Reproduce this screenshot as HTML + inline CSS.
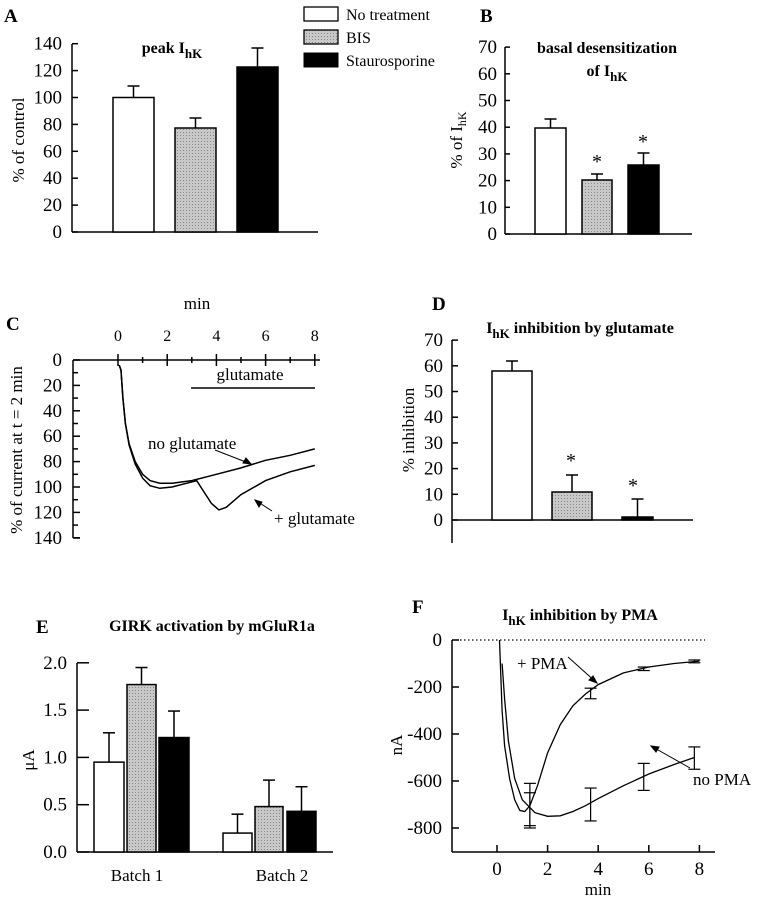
<!DOCTYPE html>
<html><head><meta charset="utf-8"><style>
body{margin:0;background:#fff}
svg{display:block;font-family:"Liberation Serif",serif}
</style></head><body>
<svg id="s" width="760" height="899" viewBox="0 0 760 899" xmlns="http://www.w3.org/2000/svg">
<defs><pattern id="dot" width="3" height="3" patternUnits="userSpaceOnUse"><rect width="3" height="3" fill="#c8c8c8"/><rect width="1" height="1" fill="#888"/></pattern></defs>
<g stroke="#000" stroke-width="1.5" fill="none" id="axes"></g>
<g font-size="19" font-weight="bold">
<text x="4" y="22">A</text><text x="480" y="22">B</text><text x="6" y="330">C</text><text x="432" y="310">D</text><text x="36" y="633">E</text><text x="412" y="613">F</text>
</g>
<g font-size="16" font-weight="bold" text-anchor="middle">
<text x="172" y="53">peak I<tspan font-size="13" dy="5">hK</tspan></text>
<text x="607" y="53">basal desensitization</text>
<text x="607" y="76">of I<tspan font-size="13" dy="5">hK</tspan></text>
<text x="580" y="333">I<tspan font-size="13" dy="5">hK</tspan><tspan dy="-5"> inhibition by glutamate</tspan></text>
<text x="212" y="631">GIRK activation by mGluR1a</text>
<text x="580" y="620">I<tspan font-size="13" dy="5">hK</tspan><tspan dy="-5"> inhibition by PMA</tspan></text>
</g>
<g font-size="17">
<rect x="304" y="7" width="34" height="14" fill="#fff" stroke="#000" stroke-width="1.3"/>
<rect x="304" y="30" width="34" height="14" fill="url(#dot)" stroke="#000" stroke-width="1.3"/>
<rect x="304" y="53" width="34" height="14" fill="#000" stroke="#000"/>
<text x="346" y="20" font-size="16">No treatment</text><text x="346" y="43" font-size="16">BIS</text><text x="346" y="66" font-size="16">Staurosporine</text>
<text transform="translate(24,140) rotate(-90)" text-anchor="middle">% of control</text>
<text transform="translate(462,140) rotate(-90)" text-anchor="middle">% of I<tspan font-size="12" dy="4">hK</tspan></text>
<text transform="translate(22,450) rotate(-90)" text-anchor="middle">% of current at t = 2 min</text>
<text transform="translate(414,430) rotate(-90)" text-anchor="middle">% inhibition</text>
<text transform="translate(34,760) rotate(-90)" text-anchor="middle">μA</text>
<text transform="translate(402,745) rotate(-90)" text-anchor="middle">nA</text>
<text x="197" y="309" text-anchor="middle">min</text>
<text x="250" y="380" text-anchor="middle">glutamate</text>
<text x="148" y="449">no glutamate</text>
<text x="274" y="524">+ glutamate</text>
<text x="137" y="881" text-anchor="middle">Batch 1</text>
<text x="282" y="881" text-anchor="middle">Batch 2</text>
<text x="517" y="669">+ PMA</text>
<text x="693" y="785">no PMA</text>
<text x="598" y="895" text-anchor="middle">min</text>
<text x="597" y="168" font-size="20" text-anchor="middle">*</text>
<text x="643" y="148" font-size="20" text-anchor="middle">*</text>
<text x="571" y="467" font-size="20" text-anchor="middle">*</text>
<text x="633" y="492" font-size="20" text-anchor="middle">*</text>
</g>
<g id="dyn"></g>
</svg>
<script>
var NS="http://www.w3.org/2000/svg",ax=document.getElementById('axes'),dy=document.getElementById('dyn');
function el(p,t,a,txt){var e=document.createElementNS(NS,t);for(var k in a)e.setAttribute(k,a[k]);if(txt!=null)e.textContent=txt;p.appendChild(e);return e}
function L(x1,y1,x2,y2,w){el(ax,'line',{x1:x1,y1:y1,x2:x2,y2:y2,'stroke-width':w||1.5})}
function T(x,y,s,anc,fs){el(dy,'text',{x:x,y:y,'text-anchor':anc||'end','font-size':fs||19},s)}
function bar(x,w,top,base,fill,err){el(ax,'rect',{x:x,y:top,width:w,height:base-top,fill:fill});if(err!=null){var c=x+w/2;L(c,top,c,err);L(c-6,err,c+6,err)}}
// A
L(72,44,72,232);L(72,232,318,232);
for(var i=0;i<=7;i++){var y=232-i*26.9;L(72,y,78,y);T(62,y+6,String(i*20))}
bar(113,41,97.5,232,'#fff',86);bar(175,41,128,232,'url(#dot)',118);bar(237,41,67,232,'#000',48);
// B
L(505,47,505,234);L(505,234,692,234);
for(i=0;i<=7;i++){y=234-i*26.7;L(505,y,510,y);T(497,y+6,String(i*10))}
bar(535,31,128,234,'#fff',119);bar(582,30,180,234,'url(#dot)',174);bar(628,31,165,234,'#000',153);
// C
L(73,360,320,360);L(73,360,73,538);L(73,538,80,538);
for(i=0;i<=7;i++){y=360+i*25.4;L(73,y,80,y);T(62,y+6,String(i*20))}
for(i=0;i<7;i++){y=372.7+i*25.4;L(73,y,78,y)}
for(i=0;i<=4;i++){var x=118+i*49.2;L(x,354,x,366);T(x,341,String(i*2),'middle',16)}
for(i=0;i<4;i++){x=142.6+i*49.2;L(x,357,x,363)}
L(191,388,315,388);
function pC(pts){return pts.map(function(p,j){return (j?'L':'M')+(118+p[0]*24.6).toFixed(1)+','+(360+p[1]*1.27).toFixed(1)}).join(' ')}
var c1=[[0.05,4],[0.12,8],[0.2,30],[0.3,50],[0.45,66],[0.7,80],[1,90],[1.3,95],[1.7,97],[2.2,97],[3,95],[4,90],[5,85],[6,79],[7,75],[8,70]];
var c2=[[0.05,4],[0.12,8],[0.2,30],[0.3,50],[0.45,67],[0.7,82],[1,93],[1.3,99],[1.7,101],[2.2,100],[2.8,97],[3.2,95],[3.5,104],[3.8,113],[4.1,118],[4.4,116],[5,106],[6,95],[7,88],[8,83]];
el(ax,'path',{d:pC(c1)});el(ax,'path',{d:pC(c2)});
L(215,450,251,464,1);el(ax,'path',{d:'M251,464 l-8,-1 l3,-5 z',fill:'#000','stroke-width':1});
L(272,511,255,500,1);el(ax,'path',{d:'M255,500 l4,7 l3,-5 z',fill:'#000','stroke-width':1});
// D
L(452,340,452,543);L(452,520,693,520);
for(i=0;i<=7;i++){y=520-i*25.7;L(452,y,458,y);T(443,y+6,String(i*10))}
bar(492,40,371,520,'#fff',361);bar(552,40,492,520,'url(#dot)',475);bar(622,31,517,520,'#000',499);
// E
L(77,663,77,852);L(77,852,333,852);
var el_=['0.0','0.5','1.0','1.5','2.0'];
for(i=0;i<=4;i++){y=852-i*47.3;L(77,y,89,y);T(67,y+6,el_[i])}
function by(v){return 852-v*94.6}
bar(94,30,by(.95),852,'#fff',by(1.26));bar(127,29,by(1.77),852,'url(#dot)',by(1.95));bar(159,30,by(1.21),852,'#000',by(1.49));
bar(223,29,by(.2),852,'#fff',by(.4));bar(255,28,by(.48),852,'url(#dot)',by(.76));bar(287,29,by(.43),852,'#000',by(.69));
// F
L(452,640,452,852);L(452,852,715,852);
el(ax,'line',{x1:452,y1:640,x2:705,y2:640,'stroke-width':1.2,'stroke-dasharray':'1.5,2.5'});
var fl=['0','-200','-400','-600','-800'];
for(i=0;i<=4;i++){y=640+i*47;L(452,y,459,y);T(442,y+6,fl[i])}
for(i=0;i<=4;i++){x=497+i*50.6;L(x,845,x,852);T(x,875,String(i*2),'middle',19)}
function fx(t){return 497+t*25.3}function fy(v){return 640-v*0.235}
function pF(pts){return pts.map(function(p,j){return (j?'L':'M')+fx(p[0]).toFixed(1)+','+fy(p[1]).toFixed(1)}).join(' ')}
el(ax,'path',{d:pF([[0.1,0],[0.15,-150],[0.2,-300],[0.3,-450],[0.5,-590],[0.7,-680],[0.9,-725],[1.1,-730],[1.3,-705],[1.6,-620],[2,-480],[2.5,-360],[3,-280],[3.5,-230],[4,-190],[5,-140],[6,-115],[7,-100],[8,-90]]),'stroke-width':1.3});
el(ax,'path',{d:pF([[0.2,-100],[0.3,-250],[0.45,-430],[0.7,-590],[1,-680],[1.5,-735],[2,-750],[2.5,-748],[3,-730],[3.5,-705],[4,-675],[5,-620],[6,-570],[7,-530],[7.8,-500]]),'stroke-width':1.3});
[[1.3,-610,-790],[1.3,-650,-800],[3.7,-205,-250],[3.7,-630,-770],[5.8,-115,-130],[5.8,-525,-640],[7.8,-85,-97],[7.8,-455,-550]].forEach(function(e){var x=fx(e[0]);L(x,fy(e[1]),x,fy(e[2]),1.2);L(x-6,fy(e[1]),x+6,fy(e[1]),1.2);L(x-6,fy(e[2]),x+6,fy(e[2]),1.2)});
L(568,657,597,683,1);el(ax,'path',{d:'M597,683 l-8,-3 l4,-4 z',fill:'#000','stroke-width':1});
L(690,768,651,746,1);el(ax,'path',{d:'M651,746 l8,1 l-3,5 z',fill:'#000','stroke-width':1});
</script>
</body></html>
